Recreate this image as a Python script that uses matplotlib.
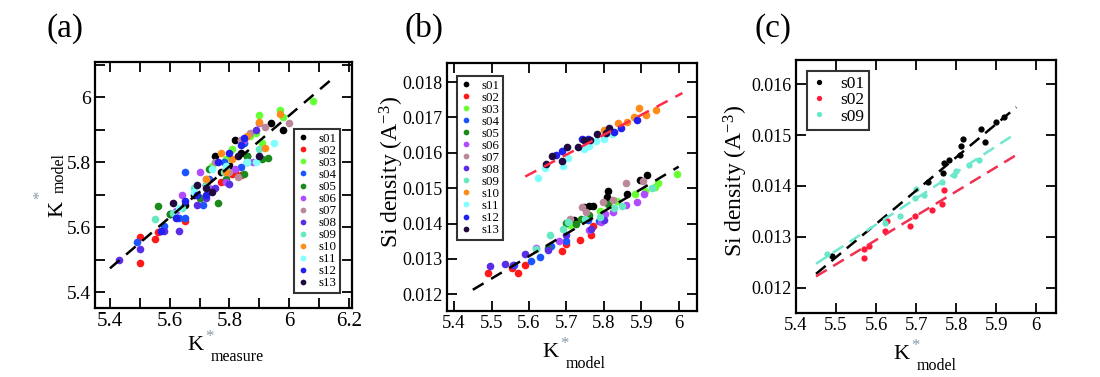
import matplotlib
matplotlib.use('Agg')
from matplotlib import pyplot as plt
import matplotlib.ticker as ticker

plt.rcParams['font.family'] = ['Liberation Serif', 'DejaVu Serif']
plt.rcParams['mathtext.fontset'] = 'custom'
plt.rcParams['mathtext.rm'] = 'Liberation Serif'
plt.rcParams['mathtext.it'] = 'Liberation Serif:italic'

labels = ['s01', 's02', 's03', 's04', 's05', 's06', 's07',
          's08', 's09', 's10', 's11', 's12', 's13']
colors = ['#000000', '#ff1a1a', '#66ff33', '#1a55ff', '#1a8a1a', '#b04cff', '#bb8899',
          '#5a2ee6', '#66e8c0', '#ff8c1a', '#80ffff', '#2020f0', '#200a40']

# panel (a): K*_model vs K*_measure
a_x = [
    [5.60, 5.65, 5.68, 5.72, 5.75, 5.77, 5.80, 5.82, 5.84, 5.86, 5.94, 5.98],
    [5.50, 5.50, 5.55, 5.56, 5.65, 5.70, 5.77, 5.81, 5.82, 5.84],
    [5.74, 5.79, 5.81, 5.85, 5.87, 5.89, 5.90, 5.91, 5.97, 5.98, 6.08],
    [5.49, 5.58, 5.63, 5.65, 5.65, 5.71, 5.73, 5.78, 5.85, 5.84],
    [5.56, 5.60, 5.70, 5.76, 5.79, 5.85, 5.86, 5.91, 5.93, 5.73],
    [5.62, 5.64, 5.70, 5.73, 5.79, 5.85, 5.84, 5.88, 5.90, 5.82],
    [5.72, 5.75, 5.80, 5.83, 5.84, 5.87, 5.92, 6.00],
    [5.43, 5.50, 5.58, 5.63, 5.69, 5.72, 5.75, 5.80, 5.86, 5.89],
    [5.55, 5.61, 5.64, 5.68, 5.72, 5.78, 5.86, 5.90],
    [5.72, 5.77, 5.79, 5.81, 5.86, 5.90, 5.92, 5.97],
    [5.63, 5.68, 5.74, 5.79, 5.86, 5.89, 5.95],
    [5.57, 5.62, 5.65, 5.69, 5.72, 5.76, 5.80, 5.84, 5.85],
    [5.61, 5.69, 5.72, 5.74, 5.83, 5.90],
]
a_y = [
    [5.64, 5.67, 5.70, 5.73, 5.82, 5.77, 5.79, 5.87, 5.83, 5.82, 5.92, 5.90],
    [5.57, 5.49, 5.565, 5.585, 5.62, 5.69, 5.74, 5.765, 5.77, 5.76],
    [5.79, 5.81, 5.84, 5.86, 5.88, 5.89, 5.945, 5.86, 5.96, 5.94, 5.99],
    [5.555, 5.605, 5.63, 5.63, 5.77, 5.67, 5.75, 5.80, 5.86, 5.785],
    [5.665, 5.64, 5.69, 5.675, 5.75, 5.765, 5.82, 5.81, 5.815, 5.78],
    [5.65, 5.70, 5.77, 5.72, 5.74, 5.87, 5.87, 5.80, 5.92, 5.78],
    [5.75, 5.80, 5.77, 5.755, 5.87, 5.89, 5.91, 5.92],
    [5.50, 5.535, 5.59, 5.59, 5.67, 5.69, 5.72, 5.735, 5.80, 5.90],
    [5.625, 5.645, 5.66, 5.72, 5.73, 5.77, 5.80, 5.84],
    [5.75, 5.83, 5.77, 5.81, 5.88, 5.925, 5.845, 5.95],
    [5.66, 5.71, 5.78, 5.79, 5.80, 5.80, 5.86],
    [5.59, 5.63, 5.68, 5.70, 5.70, 5.80, 5.83, 5.855, 5.875],
    [5.675, 5.73, 5.72, 5.71, 5.82, 5.82],
]
a_fit_x = [5.40, 6.155]
a_fit_y = [5.474, 6.066]

# panel (b): Si density vs K*_model
b_x = [
    [5.72, 5.746, 5.76, 5.772, 5.808, 5.81, 5.862, 5.897, 5.915],
    [5.49, 5.554, 5.57, 5.59, 5.687, 5.70, 5.737, 5.766, 5.77],
    [5.71, 5.79, 5.835, 5.884, 5.91, 5.937, 5.945, 5.996],
    [5.56, 5.605, 5.63, 5.66, 5.70, 5.757, 5.788],
    [5.65, 5.70, 5.725, 5.74, 5.76, 5.81],
    [5.62, 5.68, 5.76, 5.792, 5.804, 5.824, 5.86, 5.889, 5.908],
    [5.71, 5.741, 5.752, 5.799, 5.825, 5.86, 5.905],
    [5.497, 5.536, 5.557, 5.59, 5.65, 5.70, 5.765, 5.80],
    [5.62, 5.656, 5.692, 5.705, 5.75, 5.79, 5.826, 5.848, 5.93],
    [5.753, 5.80, 5.837, 5.861, 5.88, 5.893, 5.914, 5.94],
    [5.625, 5.643, 5.69, 5.705, 5.746, 5.761, 5.778, 5.80, 5.822],
    [5.672, 5.688, 5.741, 5.757, 5.826, 5.847, 5.888],
    [5.646, 5.661, 5.688, 5.701, 5.732, 5.748, 5.764, 5.783, 5.806, 5.813],
]
b_y = [
    [0.01409, 0.01447, 0.01449, 0.01449, 0.01475, 0.01493, 0.01485, 0.01522, 0.01537],
    [0.01259, 0.01274, 0.01259, 0.01283, 0.01322, 0.01342, 0.01353, 0.01367, 0.01393],
    [0.01395, 0.01435, 0.01464, 0.01485, 0.01493, 0.01504, 0.01516, 0.01540],
    [0.01283, 0.01293, 0.01306, 0.01337, 0.01350, 0.01410, 0.01407],
    [0.01330, 0.01402, 0.01400, 0.01412, 0.01424, 0.01455],
    [0.01330, 0.01352, 0.01383, 0.01405, 0.01427, 0.01433, 0.01452, 0.01460, 0.01483],
    [0.01414, 0.01447, 0.01432, 0.01460, 0.01468, 0.01514, 0.01520],
    [0.01280, 0.01285, 0.01283, 0.01313, 0.01326, 0.01367, 0.01385, 0.01410],
    [0.01328, 0.01369, 0.01384, 0.01405, 0.01413, 0.01419, 0.01443, 0.01449, 0.01500],
    [0.01627, 0.01665, 0.01684, 0.01686, 0.01702, 0.01726, 0.01707, 0.01721],
    [0.01528, 0.01556, 0.01562, 0.01585, 0.01611, 0.01618, 0.01634, 0.01639, 0.01652],
    [0.01594, 0.01605, 0.01638, 0.01638, 0.01658, 0.01670, 0.01693],
    [0.01568, 0.01591, 0.01577, 0.01616, 0.01617, 0.01637, 0.01636, 0.01653, 0.01657, 0.01671],
]
b_fit_low_x = [5.45, 6.00]
b_fit_low_y = [0.01213, 0.01561]
b_fit_up_x = [5.59, 6.01]
b_fit_up_y = [0.01533, 0.01769]

# panel (c): s01, s02, s09 only
c_labels = ['s01', 's02', 's09']
c_colors = ['#000000', '#ff1a3a', '#66e8c8']
c_x = [
    [5.49, 5.73, 5.767, 5.769, 5.781, 5.809, 5.813, 5.816, 5.862, 5.873, 5.898, 5.918],
    [5.569, 5.569, 5.581, 5.623, 5.627, 5.685, 5.698, 5.74, 5.765, 5.769],
    [5.477, 5.623, 5.66, 5.698, 5.70, 5.719, 5.765, 5.795, 5.80, 5.831, 5.858],
]
c_y = [
    [0.01262, 0.01408, 0.01426, 0.01446, 0.01451, 0.01461, 0.01479, 0.01492, 0.01513, 0.01487, 0.01525, 0.01536],
    [0.01259, 0.01275, 0.01282, 0.01311, 0.01331, 0.01322, 0.01341, 0.01352, 0.01364, 0.01393],
    [0.01267, 0.01327, 0.01340, 0.01377, 0.01395, 0.01382, 0.01408, 0.01421, 0.01430, 0.01441, 0.01452],
]
c_fit_x = [5.45, 5.95]
c_fit_y = [[0.01227, 0.01555], [0.01222, 0.01461], [0.01247, 0.01504]]
c_fit_colors = ['#000000', '#f03050', '#70e8d0']

W, H = 1100, 377
fig = plt.figure(figsize=(11, 3.77), dpi=100)


def px_axes(l, t, r, b):
    return fig.add_axes([l / W, 1 - b / H, (r - l) / W, (b - t) / H])


def style(ax, xsize, ysize):
    for s in ax.spines.values():
        s.set_linewidth(1.6)
    ax.tick_params(which='both', direction='in', top=True, right=True,
                   width=1.3, pad=3, length=7)
    ax.tick_params(axis='x', labelsize=xsize)
    ax.tick_params(axis='y', labelsize=ysize)


def ftext(x, y, s, **kw):
    fig.text(x / W, 1 - y / H, s, **kw)


def klabel(x, y, sub, rot=0):
    # K with grey star and subscript, positions in pixels
    if rot == 0:
        ftext(x, y, 'K', fontsize=16, va='baseline', ha='left')
        ftext(x + 18, y - 9, '*', fontsize=12, color='#8899aa', va='baseline', ha='left')
        ftext(x + 24, y + 11, sub, fontsize=11.5, va='baseline', ha='left')
    else:
        kw = dict(rotation=90, rotation_mode='anchor', va='baseline', ha='left')
        ftext(x, y, 'K', fontsize=16, **kw)
        ftext(x - 18, y - 18, '*', fontsize=12, color='#8899aa', **kw)
        ftext(x + 2, y - 24, sub, fontsize=11.5, **kw)


def make_legend(ax, loc, anchor, fs, ms):
    leg = ax.legend(loc=loc, bbox_to_anchor=anchor, borderaxespad=0,
                    fontsize=fs, labelspacing=0.0, handlelength=0.8, handletextpad=0.8,
                    borderpad=0.3, fancybox=False, edgecolor='black', markerscale=ms)
    leg.get_frame().set_linewidth(1.5)
    return leg


# (a)
ax1 = px_axes(95, 62, 352, 308)
for x, y, c, lab in zip(a_x, a_y, colors, labels):
    ax1.plot(x, y, 'o', ms=5.5, color=c, mec='none', label=lab)
ax1.plot(a_fit_x, a_fit_y, '--', color='black', lw=1.8, dashes=(5, 3.5))
ax1.set_xlim(5.35, 6.21)
ax1.set_ylim(5.352, 6.109)
ax1.xaxis.set_major_locator(ticker.MultipleLocator(0.2))
ax1.xaxis.set_minor_locator(ticker.MultipleLocator(0.1))
ax1.yaxis.set_major_locator(ticker.MultipleLocator(0.2))
ax1.yaxis.set_minor_locator(ticker.MultipleLocator(0.1))
ax1.xaxis.set_major_formatter(ticker.FuncFormatter(lambda v, p: '%g' % round(v, 2)))
ax1.yaxis.set_major_formatter(ticker.FuncFormatter(lambda v, p: '%g' % round(v, 2)))
style(ax1, 15, 14)
make_legend(ax1, 'lower right', (0.955, 0.06), 9.3, 0.75)

# (b)
ax2 = px_axes(447, 63, 697, 311)
for x, y, c, lab in zip(b_x, b_y, colors, labels):
    ax2.plot(x, y, 'o', ms=5.5, color=c, mec='none', label=lab)
ax2.plot(b_fit_low_x, b_fit_low_y, '--', color='black', lw=1.8, dashes=(5, 3.5))
ax2.plot(b_fit_up_x, b_fit_up_y, '--', color='#ff2a4a', lw=1.8, dashes=(5, 3.5))
ax2.set_xlim(5.381, 6.049)
ax2.set_ylim(0.01153, 0.01854)
ax2.xaxis.set_major_locator(ticker.MultipleLocator(0.1))
ax2.yaxis.set_major_locator(ticker.MultipleLocator(0.001))
ax2.xaxis.set_major_formatter(ticker.FuncFormatter(lambda v, p: '%g' % round(v, 2)))
ax2.yaxis.set_major_formatter(ticker.FormatStrFormatter('%.3f'))
style(ax2, 13.5, 13)
make_legend(ax2, 'upper left', (0.039, 0.949), 9.3, 0.75)

# (c)
ax3 = px_axes(796, 60, 1056, 313)
for x, y, c, lab in zip(c_x, c_y, c_colors, c_labels):
    ax3.plot(x, y, 'o', ms=4.5, color=c, mec='none', label=lab)
for fy, c in zip(c_fit_y, c_fit_colors):
    ax3.plot(c_fit_x, fy, '--', color=c, lw=1.8, dashes=(5, 3))
ax3.set_xlim(5.4, 6.049)
ax3.set_ylim(0.0115, 0.01648)
ax3.xaxis.set_major_locator(ticker.MultipleLocator(0.1))
ax3.yaxis.set_major_locator(ticker.MultipleLocator(0.001))
ax3.xaxis.set_major_formatter(ticker.FuncFormatter(lambda v, p: '%g' % round(v, 2)))
ax3.yaxis.set_major_formatter(ticker.FormatStrFormatter('%.3f'))
style(ax3, 13.5, 13)
make_legend(ax3, 'upper left', (0.043, 0.957), 12.5, 0.85)

# axis labels
klabel(187, 350, 'measure')
klabel(542, 357, 'model')
klabel(893, 359, 'model')
klabel(62, 217, 'model', rot=90)
ylab = 'Si density (A$^{\\mathrm{-3}}$)'
ftext(398, 248, ylab, fontsize=17, rotation=90, rotation_mode='anchor',
      va='baseline', ha='left')
ftext(742, 257, ylab, fontsize=17, rotation=90, rotation_mode='anchor',
      va='baseline', ha='left')

# panel letters
ftext(47, 37, '(a)', fontsize=24, va='baseline')
ftext(404, 37, '(b)', fontsize=24, va='baseline')
ftext(754, 37, '(c)', fontsize=24, va='baseline')

fig.savefig('out.png', dpi=100)
